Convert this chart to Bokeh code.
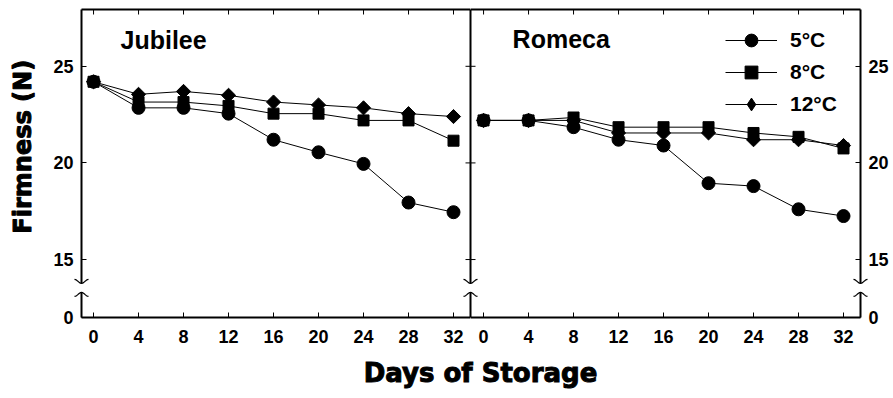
import numpy as np
from bokeh.plotting import figure
from bokeh.models import (LinearAxis, FixedTicker, Legend, LegendItem, Label, Range1d)
from bokeh.layouts import column, row
from bokeh.embed import file_html
from bokeh.resources import INLINE

# ---- data ----
days = [0, 4, 8, 12, 16, 20, 24, 28, 32]
jubilee_5c = [24.2, 22.85, 22.85, 22.55, 21.2, 20.55, 19.95, 17.95, 17.45]
jubilee_8c = [24.2, 23.15, 23.15, 22.95, 22.55, 22.55, 22.2, 22.2, 21.15]
jubilee_12c = [24.2, 23.55, 23.7, 23.5, 23.15, 23.0, 22.85, 22.55, 22.4]
romeca_5c = [22.2, 22.2, 21.85, 21.2, 20.9, 18.95, 18.8, 17.6, 17.25]
romeca_8c = [22.2, 22.2, 22.35, 21.85, 21.85, 21.85, 21.55, 21.35, 20.75]
romeca_12c = [22.2, 22.2, 22.2, 21.55, 21.55, 21.55, 21.2, 21.2, 20.9]
series_labels = ["5°C", "8°C", "12°C"]
x_ticks = [0, 4, 8, 12, 16, 20, 24, 28, 32]
y_ticks = [12, 15, 20, 25]          # 12 is the broken-axis position of 0
y_tick_labels = {12: "0", 15: "15", 20: "20", 25: "25"}

TICK_FONT = "Liberation Sans"
Y0, Y1 = 12.0, 27.94
X1 = 33.51
PX_X = 11.25   # px per day
PX_Y = 19.25   # px per unit
HAS_OUTLINE = "text_outline_color" in Label.properties()


def add_axis(p, side, label=None):
    ax = LinearAxis()
    if side in ("below", "above"):
        ax.ticker = FixedTicker(ticks=x_ticks)
        ax.major_label_standoff = 12
    else:
        ax.ticker = FixedTicker(ticks=y_ticks)
        ax.major_label_overrides = y_tick_labels
        ax.major_label_standoff = 8
    ax.axis_line_color = None
    ax.major_tick_in = 5
    ax.major_tick_out = 0
    ax.minor_tick_line_color = None
    ax.major_tick_line_color = "black"
    ax.major_tick_line_width = 1
    ax.major_label_text_font = TICK_FONT
    ax.major_label_text_font_style = "bold"
    ax.major_label_text_color = "black"
    ax.major_label_text_font_size = "18px"
    if label:
        ax.axis_label = label
        ax.axis_label_text_font = "DejaVu Sans"
        ax.axis_label_text_font_style = "bold"
        ax.axis_label_text_font_size = "24px"
        ax.axis_label_text_color = "black"
        ax.axis_label_standoff = 13
        if HAS_OUTLINE:
            ax.axis_label_text_outline_color = "black"
    p.add_layout(ax, side)


def mirror_ticks(p, x_edge, inward_angle):
    # inner ticks on the top edge and the opposite vertical edge
    p.ray(x=x_ticks, y=[Y1] * len(x_ticks), length=5, length_units="screen",
          angle=-np.pi / 2, line_color="black", line_width=1)
    p.ray(x=[x_edge] * len(y_ticks), y=y_ticks, length=5, length_units="screen",
          angle=inward_angle, line_color="black", line_width=1)


def frame_and_breaks(p, xs, xe):
    gap_lo = Y0 + (317 - 292) / PX_Y
    gap_hi = Y0 + (317 - 283) / PX_Y
    xl = [[xs, xe], [xs, xe], [xs, xs], [xs, xs], [xe, xe], [xe, xe]]
    yl = [[Y0, Y0], [Y1, Y1], [Y0, gap_lo], [gap_hi, Y1], [Y0, gap_lo], [gap_hi, Y1]]
    p.multi_line(xl, yl, line_color="black", line_width=2, level="overlay")
    dx = np.linspace(-7, 7, 15)
    up = 279 + 2 * (1 + np.cos(np.pi * dx / 7))
    lo = 296 - 2 * (1 + np.cos(np.pi * dx / 7))
    cx, cy = [], []
    for xa in (xs, xe):
        cx.append(list(xa + dx / PX_X)); cy.append(list(Y0 + (317 - up) / PX_Y))
        cx.append(list(xa + dx / PX_X)); cy.append(list(Y0 + (317 - lo) / PX_Y))
    p.multi_line(cx, cy, line_color="black", line_width=1.2, level="overlay")


def draw_series(p, s5, s8, s12):
    rends = []
    for ys, marker, size, angle in ((s12, "square", 10, np.pi / 4),
                                    (s8, "square", 11, 0),
                                    (s5, "circle", 13, 0)):
        ln = p.line(days, ys, line_color="black", line_width=1)
        sc = p.scatter(days, ys, marker=marker, size=size, angle=angle,
                       fill_color="black", line_color="black")
        rends.append([ln, sc])
    return rends[::-1]  # 5, 8, 12


def base_fig(width, xs, left, right):
    p = figure(width=width, height=355, x_range=Range1d(xs, X1), y_range=Range1d(Y0, Y1),
               output_backend="svg", toolbar_location=None,
               x_axis_location=None, y_axis_location=None,
               min_border_left=left, min_border_right=right,
               min_border_top=9, min_border_bottom=38)
    p.outline_line_color = None
    p.grid.visible = False
    return p


# ---- left panel: Jubilee ----
p1 = base_fig(470, -1.07, 81, 0)
add_axis(p1, "below")
add_axis(p1, "left", "\u00a0\u00a0\u00a0\u00a0Firmness (N)")
mirror_ticks(p1, X1, np.pi)
draw_series(p1, jubilee_5c, jubilee_8c, jubilee_12c)
frame_and_breaks(p1, -1.07, X1)
p1.add_layout(Label(x=2.4, y=26.38, text="Jubilee", text_font="Liberation Sans",
                    text_font_style="bold", text_font_size="25px", text_color="black",
                    text_baseline="alphabetic"))

# ---- right panel: Romeca ----
p2 = base_fig(423, -1.16, 0, 33)
add_axis(p2, "below")
add_axis(p2, "right")
mirror_ticks(p2, -1.16, 0)
r2 = draw_series(p2, romeca_5c, romeca_8c, romeca_12c)
frame_and_breaks(p2, -1.16, X1)
p2.add_layout(Label(x=2.58, y=26.43, text="Romeca", text_font="Liberation Sans",
                    text_font_style="bold", text_font_size="25px", text_color="black",
                    text_baseline="alphabetic"))

# legend key for 12 °C shows an upright diamond (hidden twin of the 12 °C markers)
key12 = p2.scatter(days, romeca_12c, marker="diamond", size=14,
                   fill_color="black", line_color="black", visible=False)
r2[2] = [r2[2][0], key12]

legend = Legend(items=[LegendItem(label=lab, renderers=rr) for lab, rr in zip(series_labels, r2)],
                location=(255, 197), border_line_color=None, background_fill_alpha=0,
                inactive_fill_alpha=0,
                padding=0, margin=0, spacing=0, glyph_width=52, glyph_height=32,
                label_height=32, label_standoff=13,
                label_text_font="Liberation Sans", label_text_font_style="bold",
                label_text_font_size="21px", label_text_color="black")
p2.add_layout(legend)

# ---- shared x-axis title ----
p3 = figure(width=893, height=43, x_range=Range1d(0, 893), y_range=Range1d(0, 43),
            output_backend="svg", toolbar_location=None,
            x_axis_location=None, y_axis_location=None, min_border=0)
p3.outline_line_color = None
p3.grid.visible = False
xlab = Label(x=480, y=26, text="Days of Storage", text_align="center",
             text_baseline="alphabetic",
             text_font="DejaVu Sans", text_font_style="bold",
             text_font_size="26px", text_color="black")
if HAS_OUTLINE:
    xlab.text_outline_color = "black"
p3.add_layout(xlab)

layout = column(row(p1, p2), p3)
open("out.html", "w").write(file_html(layout, INLINE))
